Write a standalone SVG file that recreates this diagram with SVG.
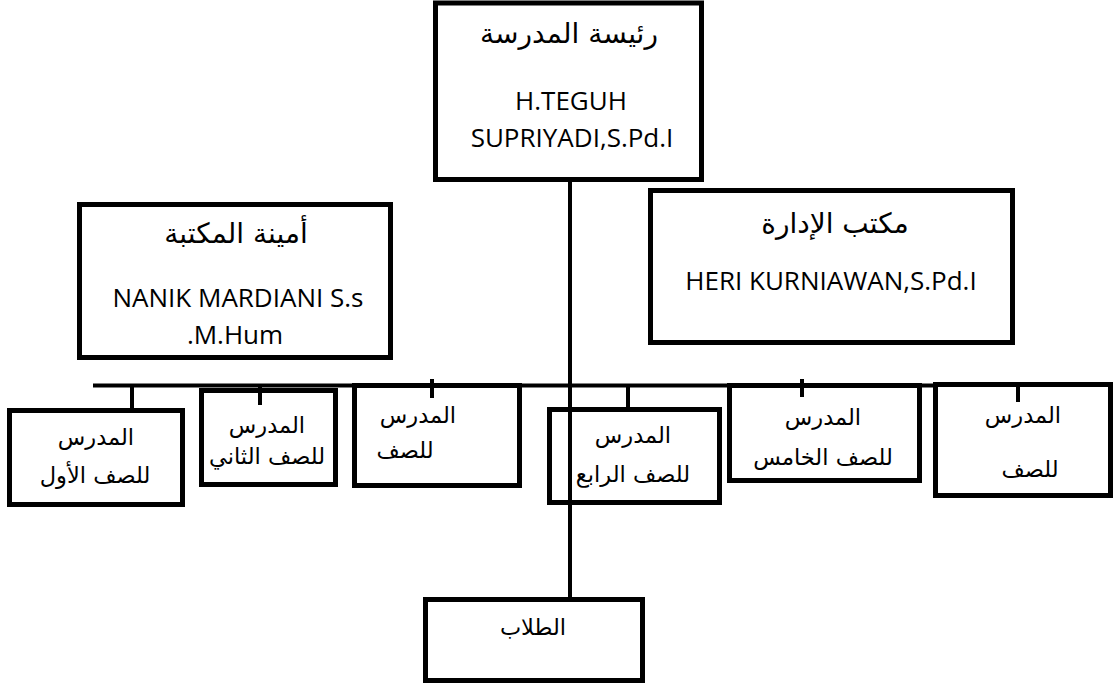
<svg xmlns="http://www.w3.org/2000/svg" width="1119" height="686" viewBox="0 0 1119 686">
<style>
.box{fill:#fff;stroke:#000;stroke-width:5}
.ln{stroke:#000;stroke-width:4;fill:none}
.lat{font-family:"Open Sans","Liberation Sans",sans-serif;font-size:26px;fill:#000;text-anchor:middle}
.arL{font-family:"DejaVu Sans",sans-serif;font-size:28px;fill:#000;text-anchor:middle}
.ar{font-family:"DejaVu Sans",sans-serif;font-size:22.5px;fill:#000;text-anchor:middle}
</style>
<rect width="1119" height="686" fill="#fff"/>
<g id="connectors">
<line class="ln" x1="570" y1="181" x2="570" y2="598"/>
<line class="ln" x1="93" y1="385.5" x2="935" y2="385.5"/>
</g>
<g id="head">
<rect class="box" x="435.5" y="3" width="266" height="176.5"/>
<text class="arL" x="569" y="43">رئيسة المدرسة</text>
<text class="lat" x="571" y="110">H.TEGUH</text>
<text class="lat" x="572" y="147">SUPRIYADI,S.Pd.I</text>
</g>
<g id="library">
<rect class="box" x="79.5" y="204.5" width="311" height="153"/>
<text class="arL" x="236" y="243">أمينة المكتبة</text>
<text class="lat" x="238" y="307">NANIK MARDIANI S.s</text>
<text class="lat" x="235" y="344">.M.Hum</text>
</g>
<g id="admin">
<rect class="box" x="650.5" y="190.5" width="362" height="152"/>
<text class="arL" x="835" y="233">مكتب الإدارة</text>
<text class="lat" x="831" y="290">HERI KURNIAWAN,S.Pd.I</text>
</g>
<g id="teacher1">
<line class="ln" x1="132" y1="385" x2="132" y2="410"/>
<rect class="box" x="9.5" y="410.5" width="173" height="94"/>
<text class="ar" x="96" y="445">المدرس</text>
<text class="ar" x="95" y="483">للصف الأول</text>
</g>
<g id="teacher2">
<rect class="box" x="201.5" y="390.5" width="134" height="94"/>
<line class="ln" x1="260" y1="385" x2="260" y2="405"/>
<text class="ar" x="267" y="433">المدرس</text>
<text class="ar" x="267" y="464">للصف الثاني</text>
</g>
<g id="teacher3">
<rect class="box" x="354.5" y="385.5" width="165" height="100"/>
<line class="ln" x1="432" y1="379" x2="432" y2="398"/>
<text class="ar" x="418" y="423">المدرس</text>
<text class="ar" x="405" y="458">للصف</text>
</g>
<g id="teacher4">
<line class="ln" x1="628" y1="385" x2="628" y2="409"/>
<rect class="box" x="549.5" y="409.5" width="170" height="93" fill-opacity="0"/>
<text class="ar" x="633" y="443">المدرس</text>
<text class="ar" x="633" y="482">للصف الرابع</text>
</g>
<g id="teacher5">
<rect class="box" x="729.5" y="385.5" width="190" height="95"/>
<line class="ln" x1="802" y1="379" x2="802" y2="397"/>
<text class="ar" x="823" y="425">المدرس</text>
<text class="ar" x="823" y="465">للصف الخامس</text>
</g>
<g id="teacher6">
<rect class="box" x="935.5" y="384.5" width="175" height="111"/>
<line class="ln" x1="1018" y1="385" x2="1018" y2="402"/>
<text class="ar" x="1023" y="423">المدرس</text>
<text class="ar" x="1030" y="477">للصف</text>
</g>
<g id="students">
<rect class="box" x="425.5" y="599.5" width="217" height="81"/>
<text class="ar" x="533" y="635">الطلاب</text>
</g>
</svg>
